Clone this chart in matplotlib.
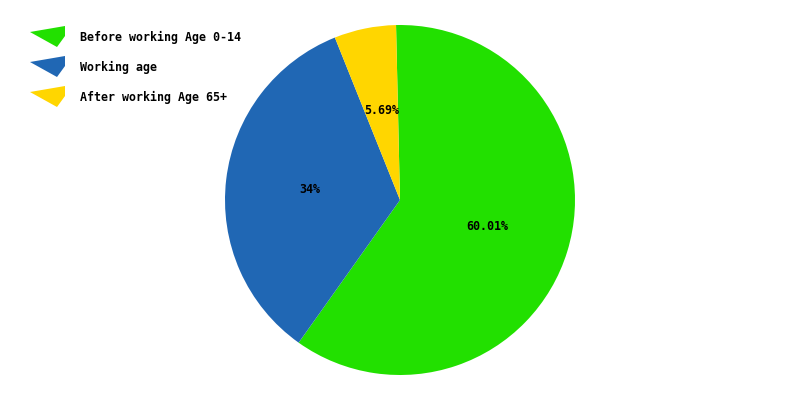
import matplotlib
matplotlib.use('Agg')
import matplotlib.pyplot as plt
from matplotlib.patches import Polygon

# Dados
categorias = ['Before working Age 0-14', 'Working age', 'After working Age 65+']
valores = [60.01, 34, 5.69]
cores = ['#22e000', '#2067b4', '#ffd600']

fig = plt.figure(figsize=(8, 4), dpi=100)
ax = fig.add_axes([0, 0, 1, 1])
ax.set_xlim(0, 800)
ax.set_ylim(0, 400)
ax.set_aspect('equal')
ax.axis('off')

wedges, textos, pcts = ax.pie(
    valores, colors=cores, startangle=91.3, counterclock=False,
    center=(400, 200), radius=175, autopct=lambda p: '',
    pctdistance=0.52, frame=True)
ax.axis('off')

fonte = dict(family='DejaVu Sans Mono', weight='bold', size=8.4, color='black')
for t, v in zip(pcts, valores):
    t.set_text(f'{v:g}%')
    t.set(**fonte)

# Legenda com ícones em forma de fatia
for i, (nome, cor) in enumerate(zip(categorias, cores)):
    dy = 30 * i
    pts = [(30, 32 + dy), (65, 26 + dy), (65, 36 + dy), (57, 47 + dy)]
    ax.add_patch(Polygon([(x, 400 - y) for x, y in pts], closed=True,
                         facecolor=cor, edgecolor='none'))
    ax.text(80, 400 - (37 + dy), nome, va='center', ha='left', **fonte)

fig.savefig('out.png', dpi=100, facecolor='white')
plt.close(fig)
